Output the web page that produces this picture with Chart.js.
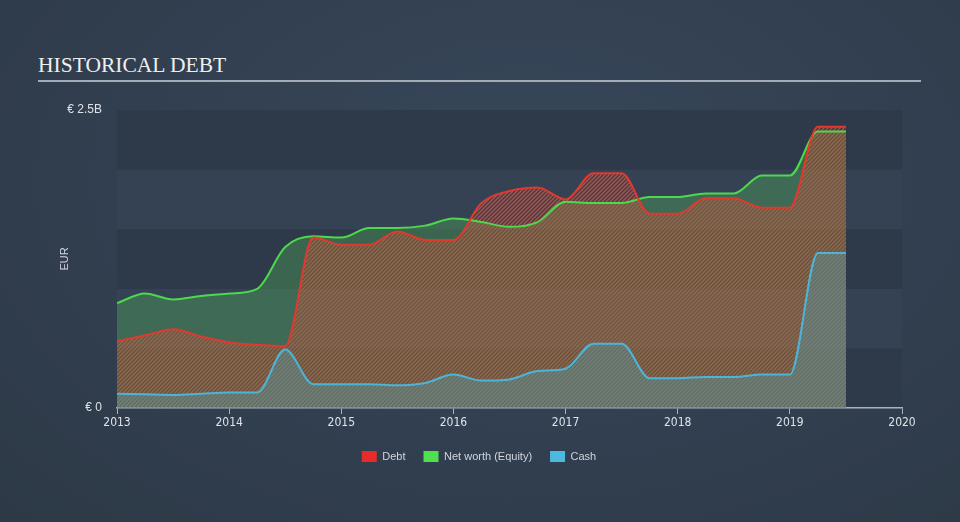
<!DOCTYPE html>
<html>
<head>
    <title>Historical Debt</title>
    <style>
        body {
            margin: 0;
            background: radial-gradient(ellipse at 55% 35%, #37475a 0%, #323f50 55%, #2d3946 100%);
            width: 960px;
            height: 522px;
            overflow: hidden;
            font-family: "Liberation Sans", Arial, sans-serif;
        }
        #wrap {
            position: relative;
            width: 960px;
            height: 522px;
        }
        #title {
            position: absolute;
            left: 38px;
            top: 53px;
            font-family: "Liberation Serif", "Times New Roman", serif;
            font-size: 21.5px;
            color: #eeeeee;
        }
        #rule {
            position: absolute;
            left: 38px;
            top: 80px;
            width: 883px;
            height: 2px;
            background: #a3abb6;
        }
        canvas {
            position: absolute;
            left: 0;
            top: 0;
        }
    </style>
    <script src="https://cdn.jsdelivr.net/npm/chart.js"></script>
</head>
<body>
<div id="wrap">
    <div id="title">HISTORICAL DEBT</div>
    <div id="rule"></div>
    <canvas id="debtChart" width="960" height="522"></canvas>
</div>

<script>
    // quarterly dates (decimal years)
    const dates = [2013.0, 2013.25, 2013.5, 2013.75, 2014.0, 2014.25, 2014.5, 2014.75,
                   2015.0, 2015.25, 2015.5, 2015.75, 2016.0, 2016.25, 2016.5, 2016.75,
                   2017.0, 2017.25, 2017.5, 2017.75, 2018.0, 2018.25, 2018.5, 2018.75,
                   2019.0, 2019.25, 2019.5];

    // values in EUR billions
    const debt = [0.56, 0.61, 0.66, 0.60, 0.55, 0.53, 0.52, 1.43,
                  1.37, 1.37, 1.48, 1.41, 1.41, 1.72, 1.82, 1.85,
                  1.75, 1.97, 1.97, 1.63, 1.63, 1.76, 1.76, 1.68,
                  1.68, 2.36, 2.36];
    const netWorth = [0.88, 0.96, 0.91, 0.94, 0.96, 1.00, 1.35, 1.44,
                      1.43, 1.51, 1.51, 1.53, 1.59, 1.56, 1.52, 1.56,
                      1.73, 1.72, 1.72, 1.77, 1.77, 1.80, 1.80, 1.95,
                      1.95, 2.32, 2.32];
    const cash = [0.12, 0.115, 0.11, 0.12, 0.13, 0.13, 0.49, 0.20,
                  0.20, 0.20, 0.19, 0.21, 0.28, 0.23, 0.24, 0.31,
                  0.33, 0.54, 0.54, 0.25, 0.25, 0.26, 0.26, 0.28,
                  0.28, 1.30, 1.30];

    const seriesNames = ['Debt', 'Net worth (Equity)', 'Cash'];
    const legendColors = ['#e82a2a', '#4fe04f', '#4bbade'];
    const yearTicks = [2013, 2014, 2015, 2016, 2017, 2018, 2019, 2020];

    function toPoints(values) {
        return values.map((v, i) => ({ x: dates[i], y: v }));
    }

    // diagonal hatch pattern
    function makeHatch(stripe) {
        const c = document.createElement('canvas');
        c.width = 4;
        c.height = 4;
        const g = c.getContext('2d');
        g.strokeStyle = stripe;
        g.lineWidth = 1.4;
        g.beginPath();
        g.moveTo(0, 4); g.lineTo(4, 0);
        g.moveTo(-1, 1); g.lineTo(1, -1);
        g.moveTo(3, 5); g.lineTo(5, 3);
        g.stroke();
        return g.createPattern(c, 'repeat');
    }

    const ctx = document.getElementById('debtChart').getContext('2d');
    const debtHatch = makeHatch('rgba(225, 80, 55, 0.8)');

    // alternating horizontal bands behind the plot
    const bandPlugin = {
        id: 'bands',
        beforeDraw(chart) {
            const area = chart.chartArea;
            const y = chart.scales.y;
            const c = chart.ctx;
            c.save();
            for (let i = 0; i < 5; i++) {
                const top = y.getPixelForValue((i + 1) * 0.5);
                const bottom = y.getPixelForValue(i * 0.5);
                c.fillStyle = i % 2 === 0 ? '#2e3a49' : '#344253';
                c.fillRect(area.left, top, area.right - area.left, bottom - top);
            }
            c.restore();
        }
    };

    new Chart(ctx, {
        type: 'line',
        data: {
            datasets: [{
                label: seriesNames[0],
                data: toPoints(debt),
                borderColor: '#e0392d',
                backgroundColor: debtHatch,
                borderWidth: 2,
                fill: 'origin',
                order: 1
            }, {
                label: seriesNames[1],
                data: toPoints(netWorth),
                borderColor: '#4cd94c',
                backgroundColor: 'rgba(78, 161, 89, 0.42)',
                borderWidth: 2,
                fill: 'origin',
                order: 2
            }, {
                label: seriesNames[2],
                data: toPoints(cash),
                borderColor: '#4bb5d9',
                backgroundColor: 'rgba(80, 160, 180, 0.38)',
                borderWidth: 2,
                fill: 'origin',
                order: 0
            }]
        },
        options: {
            responsive: false,
            animation: false,
            elements: {
                point: { radius: 0 },
                line: { cubicInterpolationMode: 'monotone' }
            },
            layout: {
                padding: { left: 56, right: 58, top: 110, bottom: 50 }
            },
            scales: {
                x: {
                    type: 'linear',
                    min: yearTicks[0],
                    max: yearTicks[yearTicks.length - 1],
                    afterBuildTicks: scale => {
                        scale.ticks = yearTicks.map(v => ({ value: v }));
                    },
                    afterFit: scale => { scale.height = 25; },
                    ticks: {
                        color: '#dfe3e8',
                        font: { family: "'Liberation Sans Narrow', 'DejaVu Sans Condensed', sans-serif", size: 12 },
                        padding: 2,
                        maxRotation: 0,
                        callback: v => String(v)
                    },
                    grid: {
                        drawOnChartArea: false,
                        color: '#a9b3bf',
                        tickLength: 6
                    },
                    border: { color: '#a9b3bf', width: 1.5 }
                },
                y: {
                    min: 0,
                    max: 2.5,
                    afterFit: scale => { scale.width = 61; },
                    ticks: {
                        stepSize: 0.5,
                        color: '#dfe3e8',
                        font: { family: "'Liberation Sans', Arial, sans-serif", size: 12 },
                        padding: 7,
                        callback: v => v === 0 ? '€ 0' : (v === 2.5 ? '€ 2.5B' : '')
                    },
                    grid: { display: false },
                    border: { display: false },
                    title: {
                        display: true,
                        text: 'EUR',
                        color: '#d0d5dc',
                        font: { family: "'Liberation Sans', Arial, sans-serif", size: 11 },
                        padding: 2
                    }
                }
            },
            plugins: {
                filler: { drawTime: 'beforeDatasetsDraw' },
                tooltip: { enabled: false },
                legend: {
                    position: 'bottom',
                    labels: {
                        color: '#d0d5dc',
                        font: { family: "'Liberation Sans', Arial, sans-serif", size: 11 },
                        boxWidth: 15,
                        boxHeight: 11,
                        padding: 18,
                        sort: (a, b) => a.datasetIndex - b.datasetIndex,
                        generateLabels: chart => {
                            const items = Chart.defaults.plugins.legend.labels.generateLabels(chart);
                            items.forEach(item => {
                                item.fillStyle = legendColors[item.datasetIndex];
                                item.strokeStyle = legendColors[item.datasetIndex];
                                item.lineWidth = 0;
                            });
                            return items;
                        }
                    }
                }
            }
        },
        plugins: [bandPlugin]
    });
</script>
</body>
</html>
